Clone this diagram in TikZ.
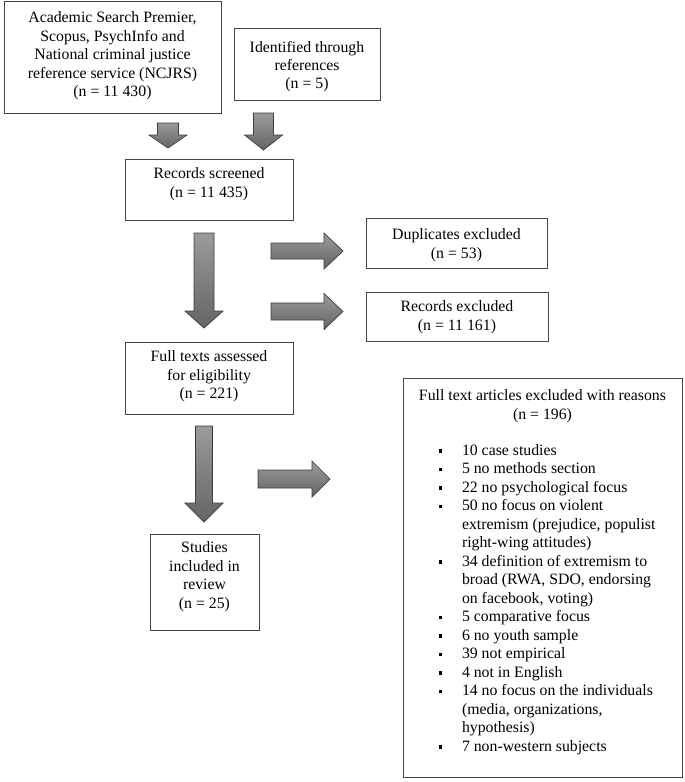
\documentclass[tikz,border=0pt]{standalone}
\usepackage{fontspec}
\setmainfont{Liberation Serif}
\usetikzlibrary{positioning}
\definecolor{ln}{RGB}{70,70,70}
\definecolor{arrline}{RGB}{60,60,60}
\definecolor{arrtop}{RGB}{155,155,155}
\definecolor{arrbot}{RGB}{100,100,100}
\newcommand{\bul}{\raisebox{2.8pt}{\rule{3.2pt}{3.2pt}}}
% Blockpfeile: x, oben, Spitze, halbe Schaftbreite, Kopflaenge
\newcommand{\downblock}[5]{%
  \draw[blk] (#1-#4,#2) -- (#1+#4,#2) -- (#1+#4,#3-#5) -- (#1+19,#3-#5) -- (#1,#3)
    -- (#1-19,#3-#5) -- (#1-#4,#3-#5) -- cycle;}
% y, Ende, Spitze, halbe Schaftbreite, Kopflaenge
\newcommand{\rightblock}[5]{%
  \draw[blk] (#2,#1-#4) -- (#3-#5,#1-#4) -- (#3-#5,#1-18) -- (#3,#1)
    -- (#3-#5,#1+18) -- (#3-#5,#1+#4) -- (#2,#1+#4) -- cycle;}
\tikzset{
  every picture/.style={line width=0.8pt, line join=miter},
  every node/.style={font=\fontsize{15.8}{18.4}\selectfont},
  % Kasten: Breite, Hoehe, Abstand oben
  box/.style n args={3}{draw=ln, anchor=north west, inner sep=0pt, outer sep=0pt,
    execute at begin node={\begin{minipage}[t][#2pt][t]{#1pt}\vspace*{#3pt}\centering},
    execute at end node={\end{minipage}}},
  blk/.style={draw=arrline, line width=0.7pt, top color=arrtop, bottom color=arrbot},
}
\begin{document}
\begin{tikzpicture}[x=1pt, y=-1pt]
  \useasboundingbox (0,0) rectangle (685,782);
  % Suche
  \node[box={217}{112}{11}] (src) at (4,1) {Academic Search Premier,\\ Scopus, PsychInfo and\\
    National criminal justice\\ reference service (NCJRS)\\ (n = 11 430)};
  \node[box={146}{72}{13}] (refs) at (234,28) {Identified through\\ references\\ (n = 5)};
  \node[box={168}{61}{9}] (scr) at (125,159) {Records screened\\ (n = 11 435)};
  % Ausschluss
  \node[box={181}{50}{11}] (dup) at (366,218) {Duplicates excluded\\ (n = 53)};
  \node[box={182}{49}{9}] (rex) at (366,292) {Records excluded\\ (n = 11 161)};
  \node[box={168}{72}{9}] (full) at (125,342) {Full texts assessed\\ for eligibility\\ (n = 221)};
  \node[box={109}{96}{8}] (incl) at (150,534) {Studies\\ included in\\ review\\ (n = 25)};
  \node[box={279}{399}{12}] (why) at (403,378) {Full text articles excluded with reasons\\ (n = 196)\par
    \vspace{17.6pt}\raggedright
    \begin{list}{\bul}{\setlength{\leftmargin}{59pt}\setlength{\labelwidth}{20pt}%
      \setlength{\labelsep}{20pt}\setlength{\itemsep}{0pt}\setlength{\parsep}{0pt}%
      \setlength{\topsep}{0pt}\setlength{\partopsep}{0pt}\fontsize{15.8}{18.5}\selectfont}
    \item 10 case studies
    \item 5 no methods section
    \item 22 no psychological focus
    \item 50 no focus on violent\\ extremism (prejudice, populist\\ right-wing attitudes)
    \item 34 definition of extremism to\\ broad (RWA, SDO, endorsing\\ on facebook, voting)
    \item 5 comparative focus
    \item 6 no youth sample
    \item 39 not empirical
    \item 4 not in English
    \item 14 no focus on the individuals\\ (media, organizations,\\ hypothesis)
    \item 7 non-western subjects
    \end{list}};
  % Pfeile
  \downblock{168}{123}{148}{10.5}{13}
  \downblock{263.5}{113}{150}{10}{15}
  \downblock{204}{233}{328}{10}{17}
  \downblock{204}{426}{522}{8.5}{19}
  \rightblock{251}{271}{343}{8}{19}
  \rightblock{311.5}{271}{343}{8.5}{19}
  \rightblock{479}{258}{330}{9}{18}
\end{tikzpicture}
\end{document}
